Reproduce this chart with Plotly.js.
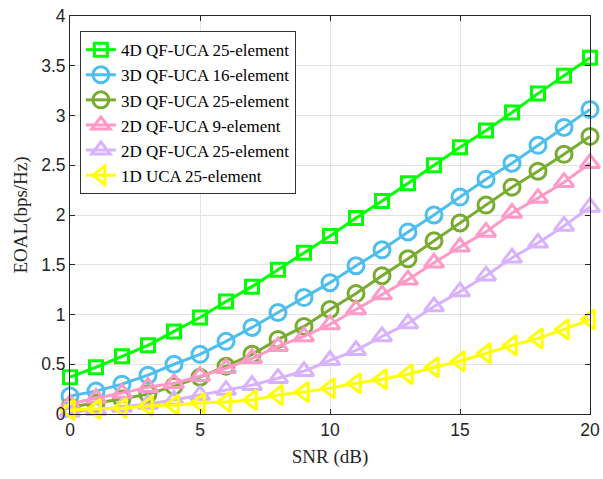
<!DOCTYPE html>
<html>
<head>
<meta charset="utf-8">
<script src="https://cdn.plot.ly/plotly-3.0.1.min.js"></script>
<style>html,body{margin:0;padding:0;background:#fff;}#chart{width:603px;height:479px;}</style>
</head>
<body>
<div id="chart"></div>
<script>
var snr = [0,1,2,3,4,5,6,7,8,9,10,11,12,13,14,15,16,17,18,19,20];
var names = ["4D QF-UCA 25-element","3D QF-UCA 16-element","3D QF-UCA 25-element","2D QF-UCA 9-element","2D QF-UCA 25-element","1D UCA 25-element"];
var qf4d25 = [0.37,0.47,0.58,0.69,0.83,0.97,1.13,1.28,1.45,1.62,1.79,1.97,2.14,2.32,2.50,2.68,2.85,3.03,3.22,3.40,3.58];
var qf3d16 = [0.18,0.23,0.30,0.39,0.50,0.60,0.73,0.87,1.02,1.17,1.32,1.49,1.65,1.83,2.00,2.18,2.36,2.52,2.70,2.88,3.06];
var qf3d25 = [0.07,0.11,0.15,0.20,0.28,0.37,0.48,0.60,0.75,0.88,1.05,1.21,1.39,1.56,1.74,1.92,2.10,2.28,2.44,2.61,2.79];
var qf2d9  = [0.10,0.16,0.21,0.27,0.31,0.38,0.46,0.56,0.68,0.78,0.90,1.05,1.20,1.35,1.52,1.68,1.83,2.02,2.17,2.33,2.52];
var qf2d25 = [0.02,0.04,0.07,0.10,0.14,0.19,0.24,0.29,0.36,0.43,0.54,0.64,0.78,0.91,1.08,1.23,1.39,1.57,1.72,1.89,2.08];
var uca1d25 = [0.04,0.05,0.06,0.08,0.09,0.11,0.12,0.14,0.19,0.22,0.26,0.31,0.35,0.40,0.47,0.53,0.61,0.69,0.76,0.85,0.95];
var yTicks = [0,0.5,1,1.5,2,2.5,3,3.5,4];
var yTickText = ["0","0.5","1","1.5","2","2.5","3","3.5","4"];
var xTicks = [0,5,10,15,20];

var series = [qf4d25,qf3d16,qf3d25,qf2d9,qf2d25,uca1d25];
var colors = ["#00FF00","#4DBEEE","#77AC30","#FF99C8","#D8B2FF","#FFFF00"];
var symbols = ["square-open","circle-open","circle-open","triangle-up-open","triangle-up-open","triangle-left-open"];
var sizes = [13,16,16,17,17,17];

var traces = series.map(function(s,i){
  return {
    x: snr, y: s, name: names[i], type: 'scatter', mode: 'lines+markers',
    cliponaxis: false,
    line: {color: colors[i], width: 3},
    marker: {symbol: symbols[i], size: sizes[i], color: colors[i], line: {color: colors[i], width: 3}}
  };
});

var layout = {
  width: 603, height: 479,
  margin: {l: 70, r: 13, t: 16, b: 65},
  paper_bgcolor: '#fff', plot_bgcolor: '#fff',
  showlegend: true,
  legend: {
    x: 0.019, y: 0.962, xanchor: 'left', yanchor: 'top',
    bgcolor: '#fff', bordercolor: '#333', borderwidth: 1,
    font: {family: 'Liberation Serif, Times New Roman, serif', size: 17, color: '#000'},
    tracegroupgap: 0
  },
  xaxis: {
    range: [0, 20], tickvals: xTicks, ticktext: xTicks.map(String),
    showgrid: true, gridcolor: '#e3e3e3', gridwidth: 1,
    zeroline: false, showline: true, linecolor: '#262626', linewidth: 1,
    mirror: 'ticks', ticks: 'inside', ticklen: 5, tickcolor: '#262626',
    tickfont: {family: 'Liberation Sans, Arial, sans-serif', size: 17.5, color: '#262626'},
    title: {text: 'SNR (dB)', font: {family: 'Liberation Serif, Times New Roman, serif', size: 19, color: '#262626'}, standoff: 10}
  },
  yaxis: {
    range: [0, 4], tickvals: yTicks, ticktext: yTickText,
    showgrid: true, gridcolor: '#e3e3e3', gridwidth: 1,
    zeroline: false, showline: true, linecolor: '#262626', linewidth: 1,
    mirror: 'ticks', ticks: 'inside', ticklen: 5, tickcolor: '#262626',
    tickfont: {family: 'Liberation Sans, Arial, sans-serif', size: 17.5, color: '#262626'},
    title: {text: 'EOAL(bps/Hz)', font: {family: 'Liberation Serif, Times New Roman, serif', size: 19, color: '#262626'}, standoff: 8}
  }
};

Plotly.newPlot('chart', traces, layout, {displayModeBar: false, staticPlot: true});
</script>
</body>
</html>
